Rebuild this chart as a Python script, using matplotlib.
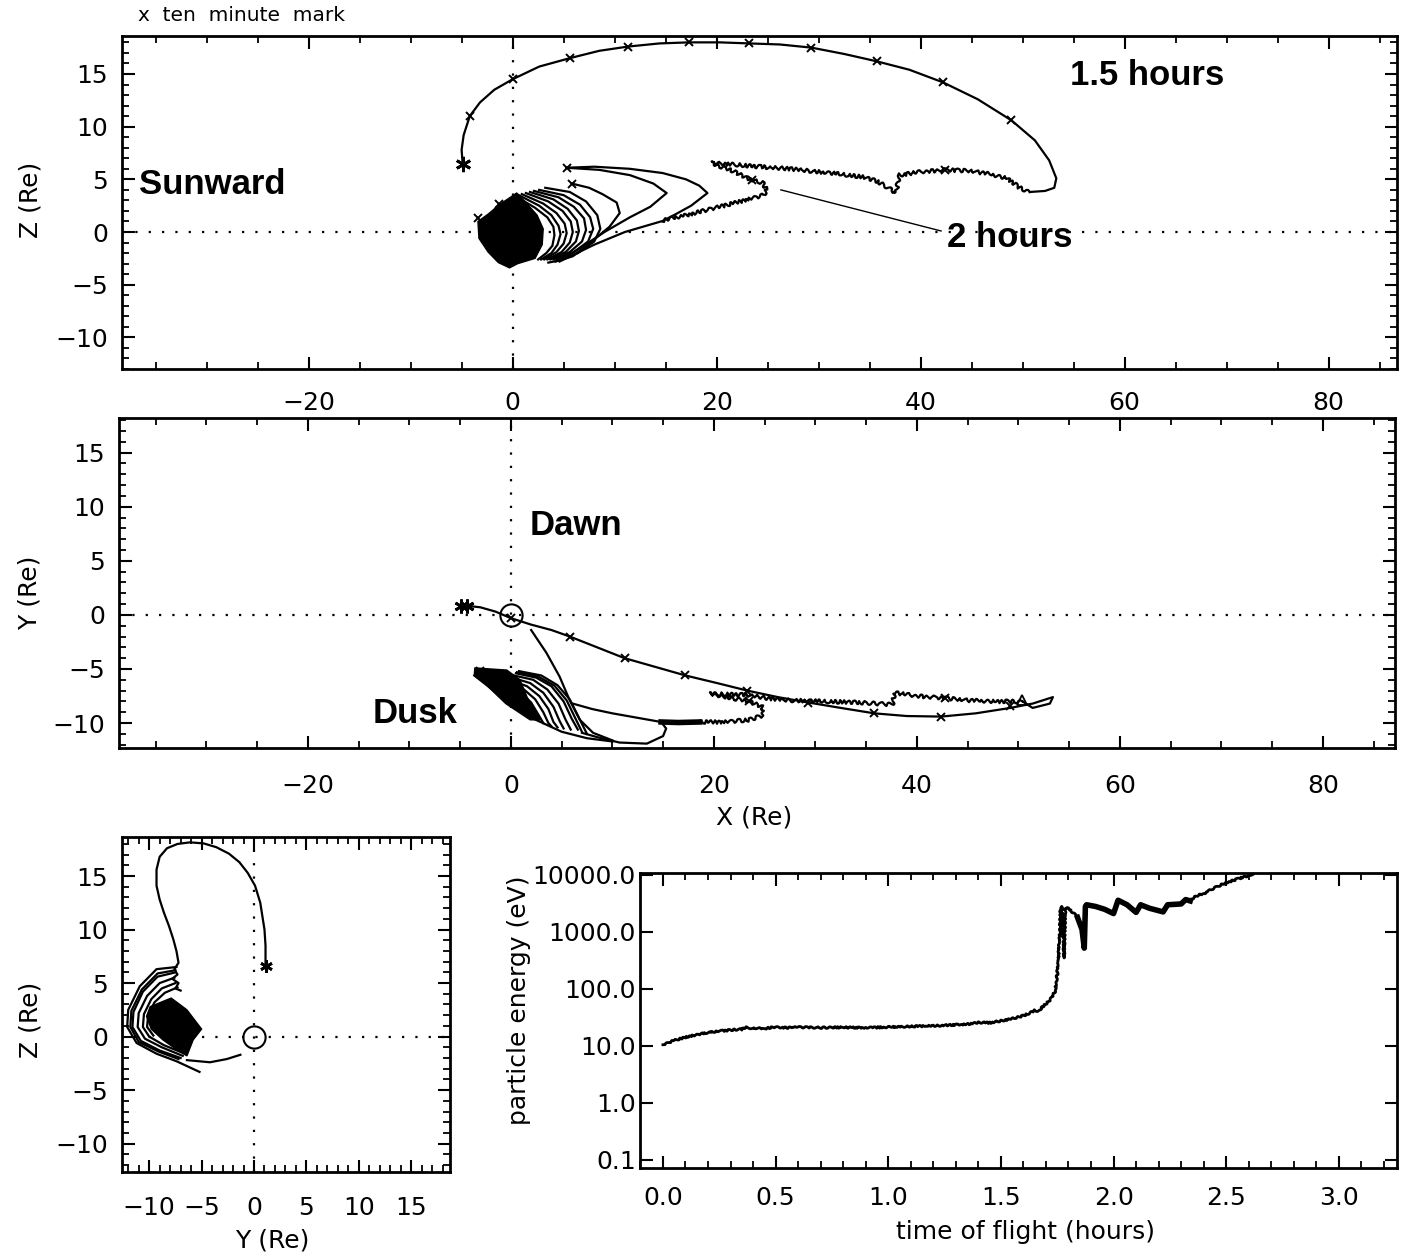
import numpy as np
import matplotlib.pyplot as plt
from matplotlib.ticker import MultipleLocator, FixedLocator, FuncFormatter

# ---------------- data ----------------
# X-Z plane: main orbit (star -> big arc -> back)
xz_arc_x = [-4.9, -5.0, -4.8, -4.2, -3.2, -1.8, 0.0, 2.6, 5.6, 8.5, 11.3, 14.4, 17.3, 20.3, 23.2, 26.2,
            29.3, 32.5, 35.7, 38.9, 42.2, 45.6, 48.9, 51.2, 52.6, 53.3, 53.1, 52.2, 50.7]
xz_arc_z = [6.5, 7.8, 9.2, 11.0, 12.3, 13.5, 14.5, 15.7, 16.5, 17.2, 17.6, 17.9, 18.0, 18.0, 17.9, 17.8,
            17.5, 16.9, 16.2, 15.4, 14.2, 12.6, 10.6, 8.7, 6.8, 5.1, 4.2, 3.9, 3.8]
# wavy return leg
xz_wave_x = [50.7, 49.7, 48.5, 46.8, 44.8, 42.4, 39.9, 37.9, 37.6, 36.8, 35.8, 34.5, 32.1, 30.1, 27.2,
             24.2, 21.8, 19.5, 21.8, 23.5, 24.5, 24.9, 24.6, 22.7, 20.3, 17.4, 14.7]
xz_wave_z = [3.8, 4.2, 5.1, 5.5, 5.8, 5.9, 5.7, 5.4, 3.7, 4.2, 4.8, 5.2, 5.5, 5.7, 6.0,
             6.2, 6.4, 6.55, 5.7, 4.9, 4.7, 4.0, 3.5, 3.0, 2.4, 1.7, 1.1]
# the ">" loops leaving the ten minute marks near (5, 6)
xz_loopa_x = [5.3, 8.0, 11.5, 14.7, 17.0, 18.3, 19.1, 17.5, 16.0, 14.7, 11.0, 8.0, 4.6]
xz_loopa_z = [6.1, 6.2, 6.0, 5.6, 5.0, 4.4, 3.7, 2.5, 1.7, 1.05, 0.0, -1.2, -2.8]
xz_loopb_x = [5.3, 8.5, 11.5, 13.8, 15.1, 13.5, 11.5, 9.0, 6.5, 4.6, 3.5]
xz_loopb_z = [6.1, 5.9, 5.4, 4.6, 3.7, 2.4, 1.4, 0.0, -1.6, -2.7, -2.9]
xz_loopc_x = [5.8, 7.5, 8.8, 10.2, 10.5, 9.5, 7.5, 5.9, 4.2]
xz_loopc_z = [4.6, 4.2, 3.6, 2.8, 1.8, 0.5, -1.1, -2.3, -2.8]
# nested arcs around the origin
xz_arcs = [
    [(3.2, 4.2), (5.6, 3.8), (7.2, 2.9), (8.3, 1.6), (8.6, 0.3), (8.0, -0.9), (6.4, -2.0), (4.6, -2.7)],
    [(2.6, 4.0), (5.0, 3.5), (6.6, 2.6), (7.6, 1.4), (7.9, 0.3), (7.4, -0.9), (6.0, -1.9), (4.3, -2.6)],
    [(2.1, 3.9), (4.5, 3.3), (6.0, 2.4), (7.0, 1.3), (7.2, 0.2), (6.8, -0.9), (5.6, -1.9), (4.0, -2.6)],
    [(1.7, 3.8), (4.0, 3.1), (5.4, 2.2), (6.3, 1.1), (6.5, 0.1), (6.2, -0.9), (5.2, -1.9), (3.7, -2.6)],
    [(1.3, 3.7), (3.5, 2.9), (4.9, 2.0), (5.7, 1.0), (5.9, 0.0), (5.6, -1.0), (4.8, -1.9), (3.4, -2.6)],
    [(0.9, 3.6), (3.0, 2.7), (4.3, 1.8), (5.1, 0.8), (5.3, -0.1), (5.0, -1.1), (4.3, -1.9), (3.1, -2.6)],
    [(0.6, 3.5), (2.6, 2.5), (3.8, 1.6), (4.5, 0.6), (4.7, -0.2), (4.4, -1.2), (3.8, -2.0), (2.8, -2.6)],
    [(0.3, 3.4), (2.2, 2.3), (3.4, 1.4), (4.0, 0.5), (4.1, -0.3), (3.9, -1.3), (3.3, -2.0), (2.5, -2.6)],
]
xz_blob = [(-3.4, 1.0), (-2.4, 1.7), (-1.3, 2.6), (0.4, 3.7), (1.3, 2.8), (2.4, 1.6), (3.0, 0.3),
           (2.9, -1.2), (2.2, -2.5), (0.5, -3.0), (-0.3, -3.4), (-1.4, -2.9), (-2.4, -1.9), (-3.3, -0.6)]
xz_marks_x = [-4.2, 0.0, 5.6, 11.3, 17.3, 23.2, 29.3, 35.7, 42.2, 48.9, 42.4, 23.5, 5.3, 5.8, -3.4, -1.3]
xz_marks_z = [11.0, 14.5, 16.5, 17.6, 18.0, 17.9, 17.5, 16.2, 14.2, 10.6, 5.9, 4.9, 6.1, 4.6, 1.3, 2.7]

# X-Y plane
xy_arc_x = [-4.4, -3.0, -1.5, 0.0, 2.0, 4.0, 5.8, 8.5, 11.2, 14.2, 17.2, 20.3, 23.3, 26.3, 29.3, 32.5,
            35.8, 39.0, 42.4, 45.8, 49.2, 51.4, 53.4, 53.1, 51.4, 50.4]
xy_arc_y = [0.85, 0.7, 0.3, -0.3, -0.9, -1.4, -2.0, -3.0, -4.0, -4.8, -5.6, -6.3, -7.0, -7.6, -8.1, -8.6,
            -9.1, -9.35, -9.4, -9.1, -8.6, -8.2, -7.6, -8.2, -8.6, -8.0]
xy_wave_x = [50.4, 48.0, 45.0, 42.8, 40.0, 37.8, 37.6, 34.4, 31.0, 27.5, 25.2, 23.5, 19.6, 23.5, 24.8,
             24.8, 23.5, 21.0, 18.6]
xy_wave_y = [-8.0, -8.0, -7.9, -7.7, -7.5, -7.2, -8.3, -8.1, -8.0, -7.9, -7.7, -7.4, -7.3, -8.0, -8.5,
             -9.3, -9.7, -9.9, -9.9]
xy_thick_x = [18.6, 16.5, 14.8]
xy_thick_y = [-9.9, -9.95, -9.9]
xy_loop_x = [6.1, 8.0, 10.0, 13.0, 14.8, 15.3, 15.0, 13.4, 10.7, 8.5, 7.0]
xy_loop_y = [-8.2, -8.7, -9.1, -9.6, -9.9, -10.5, -11.2, -11.9, -11.8, -11.3, -10.9]
xy_drop_x = [2.0, 3.5, 4.8, 5.8, 6.8, 8.1, 10.0]
xy_drop_y = [-1.4, -3.5, -5.7, -7.9, -9.7, -10.9, -11.6]
xy_edge_x = [-3.6, -1.0, 2.0, 5.0, 7.5, 10.0]
xy_edge_y = [-5.6, -7.5, -9.5, -10.8, -11.4, -11.7]
xy_arcs = [
    [(0.8, -5.2), (3.0, -5.6), (4.6, -6.5), (5.8, -7.8), (6.7, -9.5), (7.5, -11.0)],
    [(0.6, -5.3), (2.7, -5.7), (4.3, -6.55), (5.5, -7.9), (6.35, -9.55), (7.0, -10.8)],
    [(0.5, -5.4), (2.5, -5.8), (4.0, -6.6), (5.2, -8.0), (6.0, -9.6), (6.6, -10.6)],
    [(0.3, -5.6), (2.2, -6.0), (3.6, -6.9), (4.7, -8.2), (5.4, -9.7), (5.9, -10.6)],
    [(0.1, -5.8), (1.9, -6.3), (3.2, -7.2), (4.2, -8.5), (4.8, -9.8), (5.2, -10.5)],
    [(-0.1, -6.0), (1.6, -6.6), (2.8, -7.5), (3.7, -8.7), (4.2, -9.9), (4.6, -10.4)],
    [(-0.3, -6.2), (1.3, -6.9), (2.4, -7.8), (3.2, -9.0), (3.7, -10.0), (4.0, -10.3)],
    [(-0.5, -6.4), (1.0, -7.2), (2.0, -8.1), (2.7, -9.2), (3.2, -10.0)],
]
xy_blob = [(-3.55, -4.9), (-2.0, -5.0), (-0.4, -5.1), (0.9, -6.0), (1.6, -7.6), (2.9, -9.7),
           (1.9, -9.7), (-0.5, -8.2), (-2.5, -6.4), (-3.6, -5.6)]
xy_marks_x = [0.0, 5.8, 11.2, 17.2, 23.3, 29.3, 35.8, 42.4, 49.2, 42.8, 23.5, -3.0, -2.0]
xy_marks_y = [-0.3, -2.0, -4.0, -5.6, -7.0, -8.1, -9.1, -9.4, -8.4, -7.7, -8.0, -5.2, -5.5]

# Y-Z plane
yz_path_y = [1.1, 1.1, 1.0, 0.6, 0.1, -0.6, -1.4, -2.4, -3.6, -4.8, -6.1, -7.3, -8.3, -9.0, -9.3, -9.3,
             -9.0, -8.6, -8.1, -7.7, -7.4, -7.2, -7.6, -7.3, -7.8, -7.2, -7.5, -7.0]
yz_path_z = [6.6, 8.5, 10.0, 12.5, 14.1, 15.3, 16.3, 17.1, 17.7, 18.05, 18.15, 18.0, 17.6, 16.8, 15.6, 14.1,
             12.8, 11.6, 10.3, 9.1, 8.0, 6.9, 6.3, 5.8, 5.4, 5.0, 4.5, 4.3]
yz_arcs = [
    [(-7.4, 6.5), (-9.3, 6.3), (-10.9, 4.7), (-12.0, 2.5), (-12.1, 0.9), (-11.2, -0.6), (-9.3, -1.6),
     (-7.4, -2.3), (-5.2, -3.3)],
    [(-7.5, 6.2), (-9.2, 5.9), (-10.7, 4.4), (-11.7, 2.4), (-11.8, 0.9), (-11.0, -0.5), (-9.1, -1.4),
     (-7.2, -2.1)],
    [(-7.5, 6.0), (-9.2, 5.6), (-10.6, 4.2), (-11.5, 2.3), (-11.6, 0.9), (-10.8, -0.4), (-9.0, -1.3),
     (-7.0, -2.0)],
    [(-7.6, 5.5), (-9.0, 5.0), (-10.2, 3.8), (-11.0, 2.2), (-11.1, 0.9), (-10.4, -0.2), (-8.8, -1.0),
     (-6.8, -1.8)],
    [(-7.5, 5.0), (-8.8, 4.5), (-9.8, 3.5), (-10.5, 2.1), (-10.6, 0.9), (-10.0, 0.0), (-8.6, -0.8),
     (-6.6, -1.6)],
    [(-7.3, 4.6), (-8.5, 4.1), (-9.5, 3.2), (-10.1, 2.0), (-10.2, 0.9), (-9.6, 0.1)],
    [(-6.4, -2.2), (-4.2, -2.4), (-2.6, -2.1), (-1.3, -1.7)],
]
yz_blob = [(-9.9, 2.8), (-7.9, 3.6), (-6.4, 2.5), (-5.0, 0.7), (-5.8, -0.3), (-6.4, -1.8),
           (-7.4, -1.2), (-8.7, -0.3), (-9.8, 0.7), (-10.25, 1.9)]

# energy vs time of flight
tof = [0.00, 0.05, 0.10, 0.15, 0.20, 0.25, 0.30, 0.35, 0.37, 0.40, 0.42, 0.45, 0.50, 0.55, 0.60, 0.70,
       0.80, 0.90, 1.00, 1.10, 1.20, 1.30, 1.35, 1.40, 1.45, 1.50, 1.55, 1.60, 1.63, 1.65, 1.67, 1.68,
       1.70, 1.72, 1.74, 1.75, 1.76, 1.765, 1.77, 1.775, 1.78, 1.785, 1.79, 1.81, 1.84, 1.86, 1.87,
       1.875, 1.88, 1.92, 1.96, 2.00, 2.02, 2.06, 2.10, 2.12, 2.16, 2.22, 2.24, 2.30, 2.32, 2.34,
       2.36, 2.40, 2.45, 2.50, 2.55, 2.60, 2.62]
energy = [10.5, 12.5, 14.2, 15.8, 17.2, 18.2, 19.0, 19.6, 21.5, 20.0, 21.0, 20.2, 21.5, 20.8, 21.3, 20.9,
          21.2, 20.8, 21.4, 22.0, 22.5, 23.5, 24.0, 25.8, 25.5, 27.5, 30.0, 34.0, 38.0, 42.0, 41.0, 47.0,
          55.0, 65.0, 90.0, 180, 700, 2600, 2800, 1500, 350, 2500, 2700, 2400, 1800, 1100, 520,
          2800, 3000, 2800, 2500, 2100, 3600, 3000, 2200, 3000, 2600, 2250, 3000, 3100, 3700, 3500,
          4200, 4700, 6000, 7300, 8500, 9800, 10500]

# ---------------- figure ----------------
fig = plt.figure(figsize=(14.08, 12.56), dpi=100)
TICK = 18
dot = (0, (1, 5))
lw = 1.6


def style(ax, xmaj, xmin, ymaj, ymin, xpad, ypad):
    ax.xaxis.set_major_locator(MultipleLocator(xmaj))
    ax.xaxis.set_minor_locator(MultipleLocator(xmin))
    ax.yaxis.set_major_locator(MultipleLocator(ymaj))
    ax.yaxis.set_minor_locator(MultipleLocator(ymin))
    ax.tick_params(which='both', direction='in', top=True, right=True, labelsize=TICK)
    ax.tick_params(which='major', length=9, width=1.5)
    ax.tick_params(which='minor', length=5, width=1.3)
    ax.tick_params(axis='x', pad=xpad)
    ax.tick_params(axis='y', pad=ypad)
    for s in ax.spines.values():
        s.set_linewidth(2)


def draw_arcs(ax, arcs):
    for a in arcs:
        ax.plot([p[0] for p in a], [p[1] for p in a], color='k', lw=lw)


def draw_blob(ax, pts):
    ax.add_patch(plt.Polygon(pts, closed=True, facecolor='k', edgecolor='k', lw=1))


def wavy(ax, x, y):
    ln, = ax.plot(x, y, color='k', lw=lw)
    ln.set_sketch_params(1.8, 7, 3)


# --- top panel: X-Z ---
ax1 = fig.add_axes([0.0866, 0.7062, 0.9056, 0.2651])
ax1.set_xlim(-38.3, 86.7)
ax1.set_ylim(-13.0, 18.6)
style(ax1, 20, 5, 5, 1, 16, 10)
ax1.axhline(0, color='k', ls=dot, lw=lw)
ax1.axvline(0, color='k', ls=dot, lw=lw)
ax1.plot(xz_arc_x, xz_arc_z, color='k', lw=lw)
wavy(ax1, xz_wave_x, xz_wave_z)
ax1.plot(xz_loopa_x, xz_loopa_z, color='k', lw=lw)
ax1.plot(xz_loopb_x, xz_loopb_z, color='k', lw=lw)
ax1.plot(xz_loopc_x, xz_loopc_z, color='k', lw=lw)
draw_arcs(ax1, xz_arcs)
draw_blob(ax1, xz_blob)
ax1.plot(xz_marks_x, xz_marks_z, ls='none', marker='x', ms=6, mew=1.4, color='k')
ax1.plot([-4.9], [6.5], ls='none', marker=(6, 2, 0), ms=11, mew=2, color='k')
ax1.plot([26.3, 42.0], [4.0, 0.1], color='k', lw=1.0)
ax1.text(-36.6, 4.5, 'Sunward', fontsize=25, fontweight='bold', family='Liberation Sans', va='center')
ax1.text(54.6, 14.9, '1.5 hours', fontsize=25, fontweight='bold', family='Liberation Sans', va='center')
ax1.text(42.6, -0.5, '2 hours', fontsize=25, fontweight='bold', family='Liberation Sans', va='center')
ax1.text(-0.072, 0.507, 'Z (Re)', transform=ax1.transAxes, rotation=90, ha='center', va='center',
         fontsize=TICK)
fig.text(0.098, 0.988, 'x  ten  minute  mark', fontsize=14.5, va='center')

# --- middle panel: X-Y ---
ax2 = fig.add_axes([0.0845, 0.4045, 0.9063, 0.2627])
ax2.set_xlim(-38.6, 87.1)
ax2.set_ylim(-12.3, 18.2)
style(ax2, 20, 5, 5, 1, 19, 10)
ax2.axhline(0, color='k', ls=dot, lw=lw)
ax2.axvline(0, color='k', ls=dot, lw=lw)
ax2.plot(xy_arc_x, xy_arc_y, color='k', lw=lw)
wavy(ax2, xy_wave_x, xy_wave_y)
ax2.plot(xy_thick_x, xy_thick_y, color='k', lw=4)
ax2.plot(xy_loop_x, xy_loop_y, color='k', lw=lw)
ax2.plot(xy_drop_x, xy_drop_y, color='k', lw=lw)
ax2.plot(xy_edge_x, xy_edge_y, color='k', lw=lw)
draw_arcs(ax2, xy_arcs)
draw_blob(ax2, xy_blob)
ax2.plot(xy_marks_x, xy_marks_y, ls='none', marker='x', ms=6, mew=1.4, color='k')
ax2.plot([-4.9, -4.3], [0.85, 0.85], ls='none', marker=(6, 2, 0), ms=10, mew=2, color='k')
ax2.plot([50.4], [-7.9], ls='none', marker='^', ms=7, mfc='none', mec='k', mew=1.3)
ax2.plot([0], [0], ls='none', marker='o', ms=16, mfc='none', mec='k', mew=1.5)
ax2.text(1.9, 8.3, 'Dawn', fontsize=25, fontweight='bold', family='Liberation Sans', va='center')
ax2.text(-13.6, -9.1, 'Dusk', fontsize=25, fontweight='bold', family='Liberation Sans', va='center')
ax2.text(-0.0697, 0.47, 'Y (Re)', transform=ax2.transAxes, rotation=90, ha='center', va='center',
         fontsize=TICK)
ax2.text(0.498, -0.212, 'X (Re)', transform=ax2.transAxes, ha='center', va='center', fontsize=TICK)

# --- bottom left: Y-Z ---
ax3 = fig.add_axes([0.0866, 0.0669, 0.2330, 0.2667])
ax3.set_xlim(-12.6, 18.7)
ax3.set_ylim(-12.65, 18.65)
style(ax3, 5, 1, 5, 1, 17, 10)
ax3.axhline(0, color='k', ls=dot, lw=lw)
ax3.axvline(0, color='k', ls=dot, lw=lw)
ax3.plot(yz_path_y, yz_path_z, color='k', lw=lw)
draw_arcs(ax3, yz_arcs)
draw_blob(ax3, yz_blob)
ax3.plot([1.1], [6.6], ls='none', marker=(6, 2, 0), ms=9, mew=2, color='k')
ax3.plot([0], [0], ls='none', marker='o', ms=16, mfc='none', mec='k', mew=1.5)
ax3.text(-0.28, 0.455, 'Z (Re)', transform=ax3.transAxes, rotation=90, ha='center', va='center',
         fontsize=TICK)
ax3.text(0.457, -0.204, 'Y (Re)', transform=ax3.transAxes, ha='center', va='center', fontsize=TICK)

# --- bottom right: energy ---
ax4 = fig.add_axes([0.4545, 0.0701, 0.5377, 0.2348])
ax4.set_yscale('log')
ax4.set_xlim(-0.102, 3.258)
ax4.set_ylim(0.0724, 10800)
ln, = ax4.plot(tof, energy, color='k', lw=2)
ln.set_sketch_params(0.8, 5, 3)
ax4.plot(tof[44:62], energy[44:62], color='k', lw=4)
ax4.xaxis.set_major_locator(MultipleLocator(0.5))
ax4.xaxis.set_minor_locator(MultipleLocator(0.1))
ax4.yaxis.set_major_locator(FixedLocator([0.1, 1, 10, 100, 1000, 10000]))
ax4.yaxis.set_major_formatter(FuncFormatter(lambda v, p: '%.1f' % v))
ax4.tick_params(which='both', direction='in', top=True, right=True, labelsize=TICK)
ax4.tick_params(which='major', length=9, width=1.5)
ax4.tick_params(which='minor', length=5, width=1.3)
ax4.tick_params(axis='x', pad=13)
ax4.tick_params(axis='y', pad=3)
ax4.xaxis.set_major_formatter(FuncFormatter(lambda v, p: '%.1f' % v))
for s in ax4.spines.values():
    s.set_linewidth(2)
ax4.text(-0.16, 0.57, 'particle energy (eV)', transform=ax4.transAxes, rotation=90, ha='center',
         va='center', fontsize=TICK)
ax4.text(0.509, -0.217, 'time of flight (hours)', transform=ax4.transAxes, ha='center', va='center',
         fontsize=TICK)

fig.savefig('out.png', dpi=100)
